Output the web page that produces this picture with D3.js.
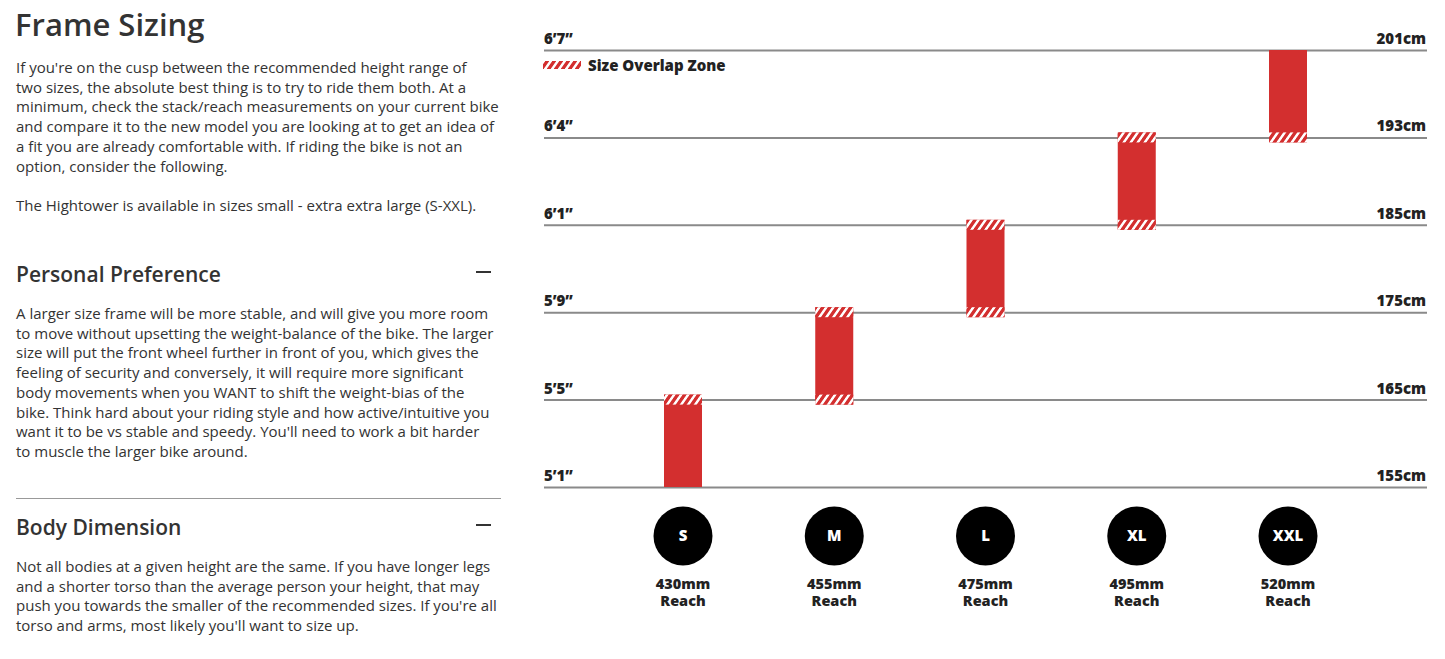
<!DOCTYPE html>
<html><head><meta charset="utf-8">
<script src="https://cdn.jsdelivr.net/npm/d3@7"></script>
<style>body{margin:0;background:#fff;font-family:"Open Sans",sans-serif;}</style>
</head><body>
<svg id="c" width="1445" height="659"></svg>
<script>
const heightsFt = ["5’1”","5’5”","5’9”","6’1”","6’4”","6’7”"];
const heightsCm = ["155cm","165cm","175cm","185cm","193cm","201cm"];
const sizes = ["S","M","L","XL","XXL"];
const reach = ["430mm","455mm","475mm","495mm","520mm"];
const rangeLo = [0,1,2,3,4]; // index into heights
const rangeHi = [1,2,3,4,5];
const hatchTop = [true,true,true,true,false];
const hatchBottom = [false,true,true,true,true];

const para1 = ["If you're on the cusp between the recommended height range of","two sizes, the absolute best thing is to try to ride them both. At a","minimum, check the stack/reach measurements on your current bike","and compare it to the new model you are looking at to get an idea of","a fit you are already comfortable with. If riding the bike is not an","option, consider the following.","","The Hightower is available in sizes small - extra extra large (S-XXL)."];
const para2 = ["A larger size frame will be more stable, and will give you more room","to move without upsetting the weight-balance of the bike. The larger","size will put the front wheel further in front of you, which gives the","feeling of security and conversely, it will require more significant","body movements when you WANT to shift the weight-bias of the","bike. Think hard about your riding style and how active/intuitive you","want it to be vs stable and speedy. You'll need to work a bit harder","to muscle the larger bike around."];
const para3 = ["Not all bodies at a given height are the same. If you have longer legs","and a shorter torso than the average person your height, that may","push you towards the smaller of the recommended sizes. If you're all","torso and arms, most likely you'll want to size up."];

const svg = d3.select("#c");
const txt = "#333";
svg.append("text").attr("x",15).attr("y",36).attr("font-size",31).attr("font-weight",600).attr("fill",txt).text("Frame Sizing");
function para(lines,y0){lines.forEach((l,i)=>svg.append("text").attr("x",16).attr("y",y0+i*19.7).attr("font-size",15).attr("fill",txt).text(l));}
para(para1,73);
svg.append("text").attr("x",16).attr("y",282).attr("font-size",21).attr("font-weight",600).attr("fill",txt).text("Personal Preference");
svg.append("rect").attr("x",476).attr("y",271).attr("width",15).attr("height",2).attr("fill",txt);
para(para2,319);
svg.append("line").attr("x1",16).attr("x2",501).attr("y1",498.5).attr("y2",498.5).attr("stroke","#999");
svg.append("text").attr("x",16).attr("y",535).attr("font-size",21).attr("font-weight",600).attr("fill",txt).text("Body Dimension");
svg.append("rect").attr("x",476).attr("y",524).attr("width",15).attr("height",2).attr("fill",txt);
para(para3,572);

// chart
const y = d3.scaleLinear().domain([0,5]).range([487,50]);
const x = d3.scalePoint().domain(sizes).range([683,1288]);
const defs = svg.append("defs");
const pat = defs.append("pattern").attr("id","hatch").attr("patternUnits","userSpaceOnUse").attr("width",7).attr("height",10).attr("patternTransform","skewX(-35)");
pat.append("rect").attr("width",7).attr("height",10).attr("fill","#fff");
pat.append("rect").attr("width",4).attr("height",10).attr("fill","#d32f2f");

heightsFt.forEach((h,i)=>{
  svg.append("line").attr("x1",544).attr("x2",1427).attr("y1",y(i)+0.5).attr("y2",y(i)+0.5).attr("stroke","#8a8a8a").attr("stroke-width",2);
  svg.append("text").attr("x",544).attr("y",y(i)-6).attr("font-size",15).attr("font-weight",800).attr("fill","#222").text(h);
  svg.append("text").attr("x",1426).attr("y",y(i)-6).attr("text-anchor","end").attr("font-size",15).attr("font-weight",800).attr("fill","#222").text(heightsCm[i]);
});
const bw=38, ext=5, hh=10;
sizes.forEach((s,i)=>{
  const cx=x(s), top=y(rangeHi[i])-(hatchTop[i]?ext:0), bot=y(rangeLo[i])+(hatchBottom[i]?ext:0);
  svg.append("rect").attr("x",cx-bw/2).attr("y",top).attr("width",bw).attr("height",bot-top).attr("fill","#d32f2f");
  if(hatchTop[i]) svg.append("rect").attr("x",cx-bw/2).attr("y",top).attr("width",bw).attr("height",hh).attr("fill","url(#hatch)");
  if(hatchBottom[i]) svg.append("rect").attr("x",cx-bw/2).attr("y",bot-hh).attr("width",bw).attr("height",hh).attr("fill","url(#hatch)");
  svg.append("circle").attr("cx",cx).attr("cy",536).attr("r",29.5).attr("fill","#000");
  svg.append("text").attr("x",cx).attr("y",541).attr("text-anchor","middle").attr("font-size",15).attr("font-weight",800).attr("fill","#fff").text(s);
  svg.append("text").attr("x",cx).attr("y",589).attr("text-anchor","middle").attr("font-size",14.5).attr("font-weight",800).attr("fill","#222").text(reach[i]);
  svg.append("text").attr("x",cx).attr("y",606).attr("text-anchor","middle").attr("font-size",14.5).attr("font-weight",800).attr("fill","#222").text("Reach");
});
svg.append("rect").attr("x",543).attr("y",61).attr("width",38).attr("height",8).attr("fill","url(#hatch)");
svg.append("text").attr("x",588).attr("y",71).attr("font-size",15).attr("font-weight",800).attr("fill","#222").text("Size Overlap Zone");
</script></body></html>
